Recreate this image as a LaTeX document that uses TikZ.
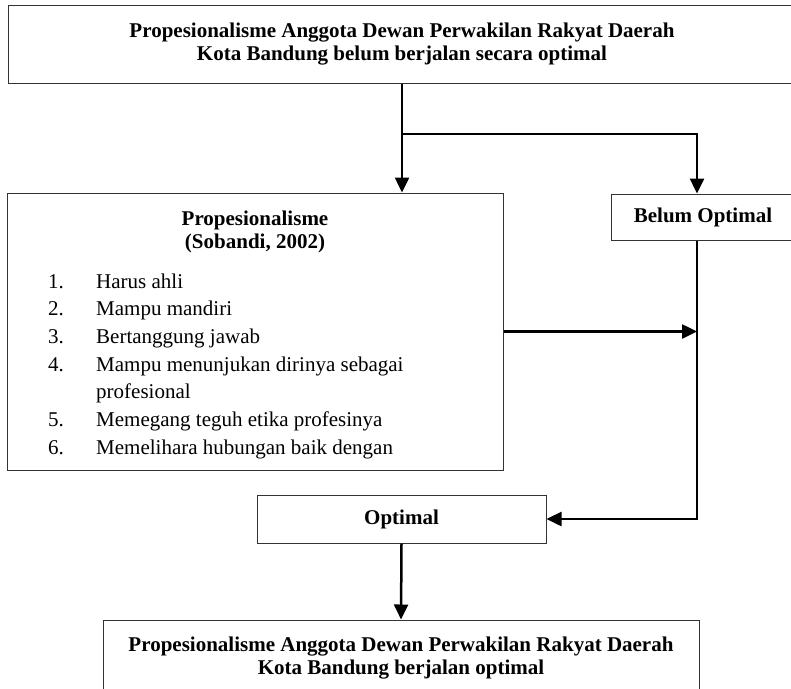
\documentclass[tikz,border=0pt]{standalone}
\usepackage{fontspec}
\setmainfont{Liberation Serif}
\usetikzlibrary{arrows.meta,positioning}

\begin{document}
\begin{tikzpicture}[x=1pt,y=-1pt,
  box/.style={draw=black!80, line width=1pt, inner sep=0pt, align=center,
    font=\fontsize{21}{23.5}\selectfont\bfseries},
  flow/.style={-{Triangle[length=15pt,width=14pt]}, line width=2.5pt},
  item/.style={inner sep=0pt, anchor=base west, font=\fontsize{21}{24}\selectfont},
  judul/.style={inner sep=0pt, anchor=base, font=\fontsize{21}{24}\selectfont\bfseries}]
  \useasboundingbox (0,0) rectangle (791,688);

  \node (masalah) [box, minimum width=788pt, minimum height=78pt] at (402,44)
    {Propesionalisme Anggota Dewan Perwakilan Rakyat Daerah\\Kota Bandung belum berjalan secara optimal};
  \node (sobandi) [box, minimum width=496pt, minimum height=277pt] at (255,331.5) {};
  \node (belum) [box, minimum width=184pt, minimum height=46pt] at (703,217) {Belum Optimal};
  \node (optimal) [box, minimum width=289pt, minimum height=48pt] at (401.5,519) {Optimal};
  \node (hasil) [box, minimum width=596pt, minimum height=76pt] at (401,658)
    {Propesionalisme Anggota Dewan Perwakilan Rakyat Daerah\\Kota Bandung berjalan optimal};

  % isi kotak Sobandi
  \node (judul1) [judul] at (255,225) {Propesionalisme};
  \node (judul2) [judul] at (255,248) {(Sobandi, 2002)};
  \foreach \num/\txt/\row in {1./Harus ahli/0, 2./Mampu mandiri/1, 3./Bertanggung jawab/2,
      4./Mampu menunjukan dirinya sebagai/3, /profesional/4,
      5./Memegang teguh etika profesinya/5, 6./Memelihara hubungan baik dengan/6}{
    \node (no\row) [item] at (48,288+27.7*\row) {\num};
    \node (butir\row) [item] at (96,288+27.7*\row) {\txt};
  }

  \coordinate (rel) at (697,134);
  \coordinate (cabang) at (masalah.south |- rel);

  \draw [flow] (masalah.south) -- (masalah.south |- sobandi.north);
  \draw [flow] (cabang) -| (belum.north -| rel);
  \draw [flow] (sobandi.east) -- (sobandi.east -| rel);
  \draw [flow] (belum.south -| rel) |- (optimal.east);
  \draw [flow] (optimal.south) -- (hasil.north);

\end{tikzpicture}
\end{document}
